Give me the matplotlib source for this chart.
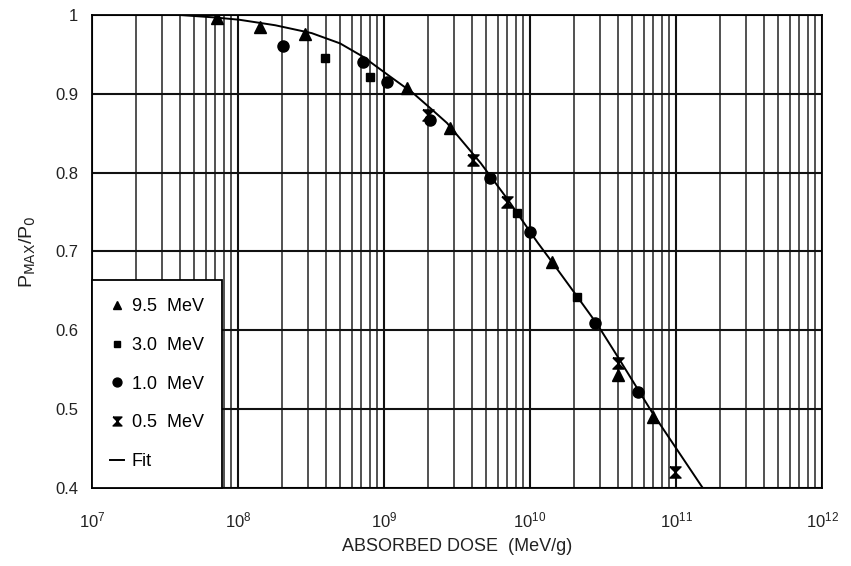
import matplotlib.pyplot as plt
import numpy as np
from matplotlib.ticker import LogLocator, NullFormatter, FixedLocator

plt.rcParams['font.family'] = ['Liberation Sans', 'DejaVu Sans']

# absorbed dose (MeV/g) and Pmax/P0
dose_95 = [7.2e7, 1.42e8, 2.9e8, 1.44e9, 2.83e9, 1.42e10, 4.0e10, 6.95e10]
p_95 = [0.996, 0.985, 0.976, 0.907, 0.857, 0.687, 0.543, 0.490]

dose_30 = [3.95e8, 8.0e8, 8.15e9, 2.1e10]
p_30 = [0.945, 0.921, 0.749, 0.642]

dose_10 = [2.03e8, 7.2e8, 1.05e9, 2.07e9, 5.3e9, 1.0e10, 2.79e10, 5.5e10]
p_10 = [0.961, 0.940, 0.915, 0.867, 0.793, 0.725, 0.609, 0.522]

dose_05 = [2.0e9, 4.07e9, 6.95e9, 4.0e10, 9.85e10]
p_05 = [0.873, 0.816, 0.763, 0.558, 0.420]

fit_dose = [4.0e7, 6.8e7, 1.02e8, 1.8e8, 3.2e8, 5.0e8, 7.2e8, 1.1e9, 1.58e9, 2.1e9, 2.7e9,
            4.6e9, 7.1e9, 1.12e10, 1.41e10, 2.1e10, 2.9e10, 4.0e10, 6.9e10, 1.51e11]
fit_p = [1.0, 0.997, 0.994, 0.987, 0.977, 0.964, 0.947, 0.922, 0.901, 0.881, 0.863,
         0.812, 0.765, 0.712, 0.687, 0.643, 0.607, 0.566, 0.495, 0.401]

yticks = [0.4, 0.5, 0.6, 0.7, 0.8, 0.9, 1.0]
ylabels = ['0.4', '0.5', '0.6', '0.7', '0.8', '0.9', '1']

hourglass = [(-1, 1), (1, 1), (-1, -1), (1, -1), (-1, 1)]

fig = plt.figure(figsize=(8.51, 5.66), dpi=100)
ax = fig.add_axes([0.108, 0.138, 0.858, 0.8355])

ax.plot(fit_dose, fit_p, '-', color='black', lw=1.4, label='Fit', zorder=3)
ax.plot(dose_95, p_95, '^', color='black', ms=8, ls='none', label='9.5  MeV', zorder=4)
ax.plot(dose_30, p_30, 's', color='black', ms=6, ls='none', label='3.0  MeV', zorder=4)
ax.plot(dose_10, p_10, 'o', color='black', ms=8, ls='none', label='1.0  MeV', zorder=4)
ax.plot(dose_05, p_05, marker=hourglass, color='black', ms=8, ls='none',
        label='0.5  MeV', zorder=4)

ax.set_xscale('log')
ax.set_xlim(1e7, 1e12)
ax.set_ylim(0.4, 1.0)
ax.xaxis.set_major_locator(LogLocator(base=10, numticks=10))
ax.xaxis.set_minor_locator(LogLocator(base=10, subs=np.arange(2, 10), numticks=100))
ax.xaxis.set_minor_formatter(NullFormatter())
ax.yaxis.set_major_locator(FixedLocator(yticks))
ax.set_yticklabels(ylabels)

ax.grid(True, which='major', color='#111111', lw=1.5)
ax.grid(True, which='minor', axis='x', color='#222222', lw=1.1)
for s in ax.spines.values():
    s.set_linewidth(1.3)

ax.tick_params(axis='both', which='both', length=0, labelsize=12, colors='#222222')
ax.tick_params(axis='x', pad=16)
ax.tick_params(axis='y', pad=10)

ax.set_xlabel('ABSORBED DOSE  (MeV/g)', fontsize=13, color='#222222', labelpad=6)
ax.set_ylabel(r'P$_{\mathrm{MAX}}$/P$_0$', fontsize=14, color='#222222', labelpad=12)

h, l = ax.get_legend_handles_labels()
order = [1, 2, 3, 4, 0]
leg = ax.legend([h[i] for i in order], [l[i] for i in order], loc='lower left',
                fontsize=13, frameon=True, fancybox=False, edgecolor='black',
                framealpha=1, borderaxespad=0, handlelength=0.8, handletextpad=0.4,
                labelspacing=1.2, borderpad=1.0, markerscale=0.8)
leg.get_frame().set_linewidth(1.3)
leg.set_zorder(5)

fig.savefig('out.png', dpi=100)
